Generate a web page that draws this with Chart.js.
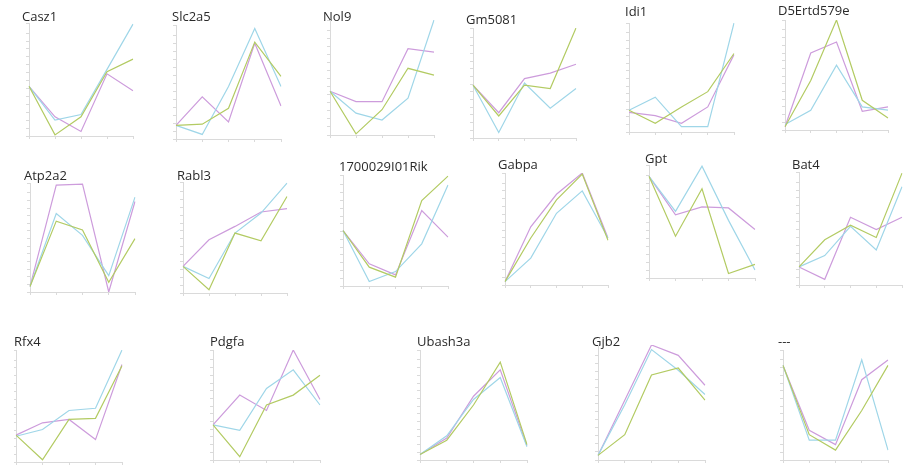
<!DOCTYPE html>
<html>
<head>
<meta charset="utf-8">
<script src="https://cdn.jsdelivr.net/npm/chart.js@4"></script>
<style>
  html, body { margin: 0; padding: 0; background: #ffffff; }
  body { width: 922px; height: 469px; position: relative; overflow: hidden; }
  canvas { position: absolute; }
</style>
</head>
<body>
<script>
// ---------- DATA (0-100 relative scale) ----------
const categories = ['1', '2', '3', '4', '5'];
const seriesNames = ['Green', 'Blue', 'Purple'];
const genes = ['Casz1', 'Slc2a5', 'Nol9', 'Gm5081', 'Idi1', 'D5Ertd579e',
               'Atp2a2', 'Rabl3', '1700029I01Rik', 'Gabpa', 'Gpt', 'Bat4',
               'Rfx4', 'Pdgfa', 'Ubash3a', 'Gjb2', '---'];

const casz1Green  = [44, 1, 17, 57, 68];
const casz1Blue   = [44, 14, 19, 59, 99];
const casz1Purple = [44, 17, 4, 55, 40];

const slc2a5Green  = [12, 13, 27, 85, 55];
const slc2a5Blue   = [12, 4, 46, 97, 46];
const slc2a5Purple = [12, 37, 15, 84, 29];

const nol9Green  = [38, 1, 22, 58, 52];
const nol9Blue   = [38, 19, 13, 32, 100];
const nol9Purple = [38, 29, 29, 75, 72];

const gm5081Green  = [48, 20, 48, 45, 100];
const gm5081Blue   = [48, 5, 50, 27, 45];
const gm5081Purple = [48, 23, 54, 59, 67];

const idi1Green  = [20, 8, 23, 37, 72];
const idi1Blue   = [20, 32, 5, 5, 100];
const idi1Purple = [18, 15, 8, 23, 71];

const d5ertdGreen  = [3, 45, 100, 27, 11];
const d5ertdBlue   = [5, 18, 59, 21, 18];
const d5ertdPurple = [3, 70, 80, 17, 21];

const atp2a2Green  = [5, 65, 57, 9, 49];
const atp2a2Blue   = [5, 72, 52, 15, 87];
const atp2a2Purple = [5, 98, 99, 0, 83];

const rabl3Green  = [24, 3, 54, 47, 87];
const rabl3Blue   = [24, 13, 54, 72, 99];
const rabl3Purple = [24, 48, 60, 73, 76];

const rikGreen  = [50, 17, 8, 77, 99];
const rikBlue   = [50, 4, 13, 38, 91];
const rikPurple = [50, 20, 10, 68, 44];

const gabpaGreen  = [3, 42, 76, 99, 40];
const gabpaBlue   = [3, 24, 64, 84, 42];
const gabpaPurple = [3, 52, 81, 100, 42];

const gptGreen  = [90, 37, 79, 4, 12];
const gptBlue   = [90, 59, 99, 51, 7];
const gptPurple = [90, 56, 63, 62, 43];

const bat4Green  = [16, 40, 53, 42, 99];
const bat4Blue   = [16, 26, 52, 31, 87];
const bat4Purple = [16, 5, 60, 49, 60];

const rfx4Green  = [24, 2, 38, 39, 86];
const rfx4Blue   = [23, 29, 46, 48, 100];
const rfx4Purple = [24, 35, 38, 20, 87];

const pdgfaGreen  = [32, 3, 50, 59, 77];
const pdgfaBlue   = [32, 27, 65, 82, 50];
const pdgfaPurple = [32, 59, 45, 100, 55];

const ubash3aGreen  = [5, 18, 50, 89, 14];
const ubash3aBlue   = [5, 22, 55, 75, 12];
const ubash3aPurple = [5, 20, 58, 82, 13];

const gjb2Green  = [4, 22, 74, 80, 52];
const gjb2Blue   = [4, 48, 96, 78, 57];
const gjb2Purple = [4, 52, 100, 91, 65];

const dashGreen  = [86, 23, 9, 45, 86];
const dashBlue   = [86, 18, 18, 91, 9];
const dashPurple = [86, 27, 14, 73, 91];

const panelSeries = [
  [casz1Green, casz1Blue, casz1Purple],
  [slc2a5Green, slc2a5Blue, slc2a5Purple],
  [nol9Green, nol9Blue, nol9Purple],
  [gm5081Green, gm5081Blue, gm5081Purple],
  [idi1Green, idi1Blue, idi1Purple],
  [d5ertdGreen, d5ertdBlue, d5ertdPurple],
  [atp2a2Green, atp2a2Blue, atp2a2Purple],
  [rabl3Green, rabl3Blue, rabl3Purple],
  [rikGreen, rikBlue, rikPurple],
  [gabpaGreen, gabpaBlue, gabpaPurple],
  [gptGreen, gptBlue, gptPurple],
  [bat4Green, bat4Blue, bat4Purple],
  [rfx4Green, rfx4Blue, rfx4Purple],
  [pdgfaGreen, pdgfaBlue, pdgfaPurple],
  [ubash3aGreen, ubash3aBlue, ubash3aPurple],
  [gjb2Green, gjb2Blue, gjb2Purple],
  [dashGreen, dashBlue, dashPurple]
];

// ---------- LAYOUT (page positions of each small panel) ----------
// [titleX, titleCenterY, plotLeft, plotRight, plotTop, plotBottom]
const panelBoxes = [
  [22, 18, 29, 133, 23, 136],
  [172, 18, 176, 281, 25, 139],
  [323, 18, 330, 434, 20, 135],
  [466, 21, 473, 576, 28, 138],
  [625, 13, 629, 734, 23, 132],
  [778, 12, 785, 888, 20, 130],
  [24, 177, 30, 135, 183, 292],
  [177, 177, 183, 287, 182, 293],
  [339, 168, 343, 448, 175, 286],
  [498, 166, 505, 608, 173, 285],
  [645, 160, 649, 755, 165, 278],
  [792, 166, 799, 902, 172, 285],
  [16, 343, 16, 122, 350, 462],
  [210, 343, 213, 320, 350, 460],
  [417, 343, 420, 527, 350, 460],
  [592, 343, 598, 705, 345, 460],
  [778, 343, 783, 888, 350, 460]
];

const lineColors = ['#b3cb63', '#9fd6e8', '#cd9cdc'];
const axisColor = '#dadada';

genes.forEach((gene, i) => {
  const [tx, tc, pl, pr, pt, pb] = panelBoxes[i];
  const canvasLeft = Math.min(tx, pl - 2);
  const canvasTop = Math.round(tc - 7);
  const xAxisH = 4;
  const rightPad = 2;
  const width = pr - canvasLeft + rightPad;
  const height = pb - canvasTop + xAxisH;
  const yAxisW = pl - canvasLeft;
  const titlePadBottom = pt - canvasTop - 13;

  const cv = document.createElement('canvas');
  cv.width = width;
  cv.height = height;
  cv.style.left = canvasLeft + 'px';
  cv.style.top = canvasTop + 'px';
  cv.style.width = width + 'px';
  cv.style.height = height + 'px';
  document.body.appendChild(cv);

  new Chart(cv.getContext('2d'), {
    type: 'line',
    data: {
      labels: categories,
      datasets: panelSeries[i].map((vals, k) => ({
        label: seriesNames[k],
        data: vals,
        borderColor: lineColors[k],
        backgroundColor: lineColors[k],
        borderWidth: 1.2,
        pointRadius: 0,
        tension: 0,
        fill: false
      }))
    },
    options: {
      responsive: false,
      animation: false,
      devicePixelRatio: 1,
      layout: { padding: { left: 0, right: rightPad, top: 0, bottom: 0 } },
      plugins: {
        legend: { display: false },
        tooltip: { enabled: false },
        title: {
          display: true,
          text: gene,
          align: 'start',
          color: '#2a2a2a',
          font: { family: 'Open Sans', size: 13, weight: 'normal', lineHeight: 1 },
          padding: { top: 0, bottom: titlePadBottom }
        }
      },
      scales: {
        x: {
          offset: false,
          ticks: { display: false },
          grid: { display: true, drawOnChartArea: false, drawTicks: true, tickLength: 3, color: axisColor },
          border: { display: true, color: axisColor, width: 1 },
          afterFit: (s) => { s.height = xAxisH; }
        },
        y: {
          min: 0,
          max: 100,
          ticks: { display: false, stepSize: 7 },
          grid: { display: true, drawOnChartArea: false, drawTicks: true, tickLength: 3, color: axisColor },
          border: { display: true, color: axisColor, width: 1 },
          afterFit: (s) => { s.width = yAxisW; }
        }
      }
    }
  });
});
</script>
</body>
</html>
